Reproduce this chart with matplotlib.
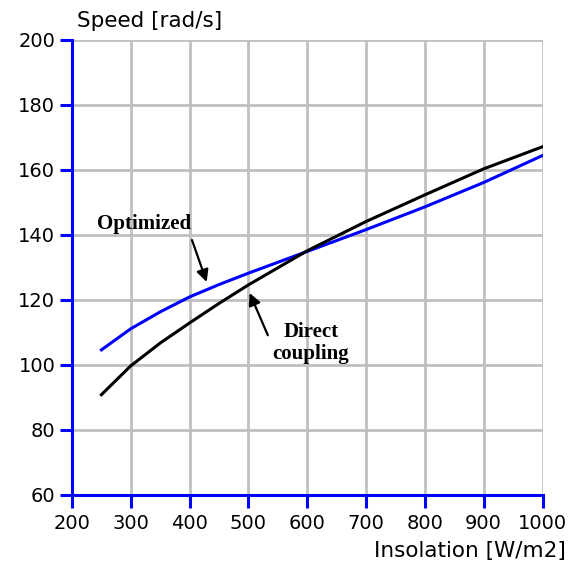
import matplotlib
matplotlib.use('Agg')
import matplotlib.pyplot as plt

# Insolation [W/m2]
insolation = [250, 300, 350, 400, 450, 500, 600, 700, 800, 900, 1000]
# Speed [rad/s]
speed_optimized = [104.5, 111.0, 116.2, 120.8, 124.6, 128.1, 134.8, 141.5, 148.5, 156, 164.3]
speed_direct = [90.7, 99.6, 106.6, 112.8, 118.8, 124.5, 135, 144, 152.2, 160.2, 167]

x_ticks = [200, 300, 400, 500, 600, 700, 800, 900, 1000]
y_ticks = [60, 80, 100, 120, 140, 160, 180, 200]

fig = plt.figure(figsize=(5.78, 5.67), dpi=100)
ax = fig.add_axes([72 / 578, (567 - 494.5) / 567, (542.5 - 72) / 578, (494.5 - 39.5) / 567])

ax.plot(insolation, speed_optimized, color='#0000ff', linewidth=2.2)
ax.plot(insolation, speed_direct, color='black', linewidth=2.2)

ax.set_xlim(200, 1000)
ax.set_ylim(60, 200)
ax.set_xticks(x_ticks)
ax.set_yticks(y_ticks)
ax.grid(True, color='#c0c0c0', linewidth=2)
ax.set_axisbelow(True)

for side in ['top', 'right']:
    ax.spines[side].set_visible(False)
for side in ['left', 'bottom']:
    ax.spines[side].set_color('#0000ff')
    ax.spines[side].set_linewidth(2.2)
ax.tick_params(direction='out', length=9, width=2.2, color='#0000ff', labelsize=14)
ax.tick_params(axis='x', pad=5)
ax.tick_params(axis='y', pad=3)

fig.text(77 / 578, 1 - 21 / 567, 'Speed [rad/s]', fontsize=15.5, va='center', ha='left')
fig.text(566 / 578, 1 - 551 / 567, 'Insolation [W/m2]', fontsize=15.5, va='center', ha='right')

arrow = dict(arrowstyle='-|>', color='black', lw=1.6, mutation_scale=18, shrinkA=0, shrinkB=0)

ax.text(242, 143.3, 'Optimized', fontsize=15, family='Liberation Serif', fontweight='bold',
        va='center', ha='left')
ax.annotate('', xy=(429, 125.4), xytext=(404, 138.3), arrowprops=arrow)

ax.text(606, 106.5, 'Direct\ncoupling', fontsize=15, family='Liberation Serif', fontweight='bold',
        va='center', ha='center', linespacing=1.15)
ax.annotate('', xy=(502, 122), xytext=(533, 109), arrowprops=arrow)

fig.savefig('out.png', dpi=100)
